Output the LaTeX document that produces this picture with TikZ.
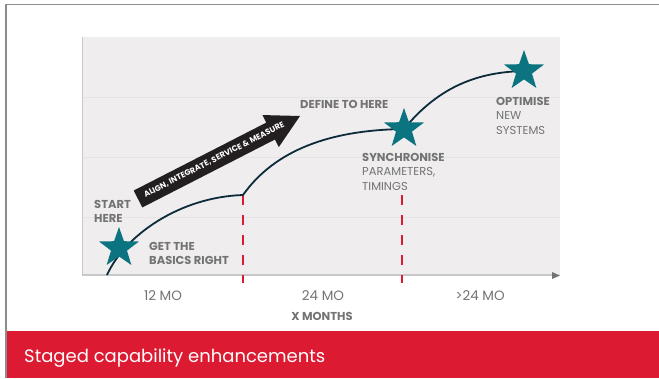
\documentclass[tikz,border=0pt]{standalone}
\usepackage{fontspec}
\setmainfont{Poppins}
\usetikzlibrary{shapes.geometric,calc}
\definecolor{stargreen}{HTML}{0B7480}
\definecolor{curveblue}{HTML}{0D2B3A}
\definecolor{bandred}{HTML}{DC1A32}
\definecolor{panelgray}{HTML}{EFEDEE}
\definecolor{gridgray}{HTML}{E5E3E4}
\definecolor{axisgray}{HTML}{C8C8C8}
\definecolor{labelgray}{HTML}{737373}
\definecolor{framegray}{HTML}{8C8C8C}
\definecolor{arrowblack}{HTML}{231F20}
\begin{document}
\begin{tikzpicture}[x=1pt,y=-1pt,line join=round,
	lbl/.style={anchor=north west,align=left,inner sep=0pt,text=labelgray,font=\fontsize{11.5}{14.5}\selectfont},
	boldlbl/.style={lbl,font=\bfseries\fontsize{11.5}{14.5}\selectfont},
	starmark/.style={star,star points=5,star point ratio=2.5,fill=stargreen,minimum size=42pt,inner sep=0pt}]
	\useasboundingbox (0,0) rectangle (659,378);
	\path
	(107,275) coordinate (A)
	(243,195) coordinate (K)
	(119,248) coordinate (S1)
	(404,129) coordinate (S2)
	(524,71) coordinate (S3)
	(138,199) coordinate (T)
	(300,116) coordinate (H)
	($(T)!149pt!(H)$) coordinate (B)
	;
	% frame and band
	\draw[framegray,line width=1.3pt] (6,378)--(6,4.5)--(659,4.5);
	\fill[bandred] (7,331) rectangle (659,378);
	\node[anchor=base west,inner sep=0pt,text=white,font=\fontsize{18}{20}\selectfont] (title) at (24,362) {Staged capability enhancements};
	% panel
	\fill[panelgray] (82,37) rectangle (560,275);
	\foreach \y in {97,157,217}
	\draw[gridgray] (82,\y)--(560,\y);
	\draw[axisgray] (82,37)--(82,275);
	\draw[axisgray,line width=2pt] (82,275)--(556,275);
	\fill[labelgray] (552,272)--(560,275.5)--(552,279)--cycle;
	\foreach \x in {243,402}
	\draw[bandred,line width=2pt,dash pattern=on 10pt off 10pt] (\x,195)--(\x,283);
	% curve
	\draw[curveblue,line width=1.8pt] (A) .. controls (125,235) and (180,197) .. (K)
	.. controls (275,150) and (330,130) .. (S2)
	.. controls (440,85) and (480,72) .. (S3);
	\foreach \s/\n in {S1/basics,S2/sync,S3/optim}
	\node[starmark] (\n) at (\s) {};
	% arrow
	\fill[arrowblack] ($(T)!9.5pt!90:(H)$)--($(B)!9.5pt!90:(H)$)--($(B)!18pt!90:(H)$)--(H)
	--($(B)!18pt!-90:(H)$)--($(B)!9.5pt!-90:(H)$)--($(T)!9.5pt!-90:(H)$)--cycle;
	\node[rotate=27,inner sep=0pt,text=white,font=\bfseries\fontsize{8}{9}\selectfont] (aism) at ($(T)!0.47!(H)$) {ALIGN, INTEGRATE, SERVICE \& MEASURE};
	% labels
	\node[boldlbl] (start) at (94,200) {START\\HERE};
	\node[boldlbl] (get) at (149,242) {GET THE\\BASICS RIGHT};
	\node[boldlbl] (define) at (300,100) {DEFINE TO HERE};
	\node[lbl] (synch) at (362,153) {{\bfseries SYNCHRONISE}\\PARAMETERS,\\TIMINGS};
	\node[lbl] (optimise) at (496,97) {{\bfseries OPTIMISE}\\NEW\\SYSTEMS};
	\foreach \x/\t in {163/12 MO,323/24 MO,480/>24 MO}
	\node[text=labelgray,font=\fontsize{13.5}{15}\selectfont] (mo\x) at (\x,296) {\t};
	\node[text=labelgray,font=\bfseries\fontsize{11.5}{13}\selectfont] (xmonths) at (322,316) {X MONTHS};
\end{tikzpicture}
\end{document}
